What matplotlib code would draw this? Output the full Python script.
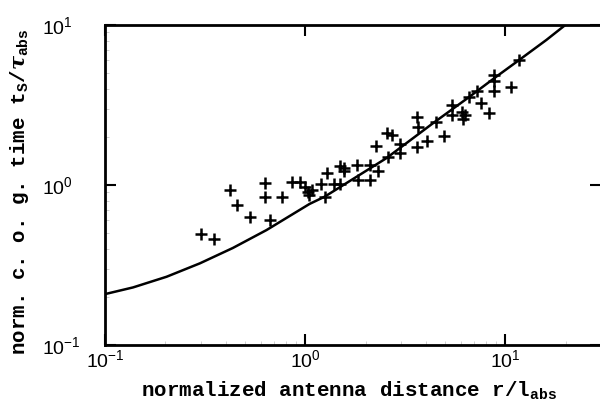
import matplotlib
matplotlib.use('Agg')
import matplotlib.pyplot as plt
from matplotlib.ticker import LogLocator, NullFormatter

# ---- data ----
curve_x = [0.1, 0.138, 0.203, 0.298, 0.435, 0.641, 1.05, 1.25, 2.54, 4.34,
           6.61, 8.99, 11.7, 16.0, 19.9]
curve_y = [0.208, 0.229, 0.267, 0.324, 0.404, 0.523, 0.761, 0.845, 1.47, 2.43,
           3.56, 4.75, 6.04, 8.06, 10.0]

meas_x = [0.301, 0.350, 0.420, 0.455, 0.528, 0.628, 0.628, 0.665, 0.764, 0.857,
          0.939, 0.994, 1.03, 1.05, 1.08, 1.195, 1.25, 1.28, 1.40, 1.50,
          1.57, 1.57, 1.50, 1.81, 1.83, 2.10, 2.10, 2.30, 2.25, 2.55,
          2.70, 2.58, 2.99, 2.99, 3.60, 3.64, 3.60, 4.04, 4.48, 4.91,
          5.38, 5.38, 6.04, 6.25, 6.11, 6.54, 7.25, 7.51, 8.32, 8.81,
          8.81, 8.81, 10.6, 11.7]
meas_y = [0.494, 0.460, 0.93, 0.75, 0.63, 1.03, 0.84, 0.60, 0.84, 1.04,
          1.04, 0.97, 0.90, 0.866, 0.93, 1.01, 0.84, 1.19, 1.01, 1.31,
          1.28, 1.22, 1.01, 1.33, 1.07, 1.33, 1.07, 1.22, 1.75, 2.11,
          2.05, 1.50, 1.80, 1.58, 2.66, 2.30, 1.73, 1.88, 2.48, 2.02,
          3.16, 2.74, 2.86, 2.74, 2.59, 3.55, 3.87, 3.25, 2.82, 4.87,
          4.47, 3.87, 4.10, 6.04]

x_range = (0.1, 30)
y_range = (0.1, 10)
x_label = "normalized antenna distance r/$\\mathrm{l_{abs}}$"
y_label = "norm. c. o. g. time $\\mathrm{t_S}/\\tau_{\\mathrm{abs}}$"

plt.rcParams['font.family'] = ['Liberation Sans', 'DejaVu Sans']
plt.rcParams['mathtext.fontset'] = 'custom'
plt.rcParams['mathtext.rm'] = 'Liberation Mono:bold'
plt.rcParams['mathtext.bf'] = 'Liberation Mono:bold'
plt.rcParams['mathtext.it'] = 'DejaVu Serif:italic:bold'

fig = plt.figure(figsize=(6.0, 4.15), dpi=100)
ax = fig.add_axes([105/600, 70/415, 496/600, 320/415])

ax.plot(curve_x, curve_y, color='black', lw=1.8, solid_capstyle='butt')
ax.plot(meas_x, meas_y, linestyle='none', marker='+', color='black',
        markersize=9, markeredgewidth=1.8)

ax.set_xscale('log')
ax.set_yscale('log')
ax.set_xlim(*x_range)
ax.set_ylim(*y_range)

for s in ax.spines.values():
    s.set_linewidth(2.0)

ax.xaxis.set_major_locator(LogLocator(base=10, numticks=10))
ax.yaxis.set_major_locator(LogLocator(base=10, numticks=10))
ax.xaxis.set_minor_locator(LogLocator(base=10, subs=range(2, 10), numticks=20))
ax.yaxis.set_minor_locator(LogLocator(base=10, subs=range(2, 10), numticks=20))
ax.xaxis.set_minor_formatter(NullFormatter())
ax.yaxis.set_minor_formatter(NullFormatter())

ax.tick_params(which='major', direction='in', length=8, width=1.5,
               top=True, right=True, labelsize=14)
ax.tick_params(which='minor', direction='in', length=3, width=0.6,
               color='#c8c8c8', top=False, right=False)
ax.tick_params(axis='x', which='major', pad=3)
ax.tick_params(axis='y', which='major', pad=45)
for lab in ax.get_yticklabels():
    lab.set_horizontalalignment('left')

lab_font = dict(family='Liberation Mono', weight='bold', size=15)
ax.set_xlabel(x_label, fontdict=lab_font)
ax.set_ylabel(y_label, fontdict=lab_font)
ax.xaxis.set_label_coords(0.492, -0.108)
ax.yaxis.set_label_coords(-0.15, 0.478)

fig.savefig('out.png', dpi=100)
